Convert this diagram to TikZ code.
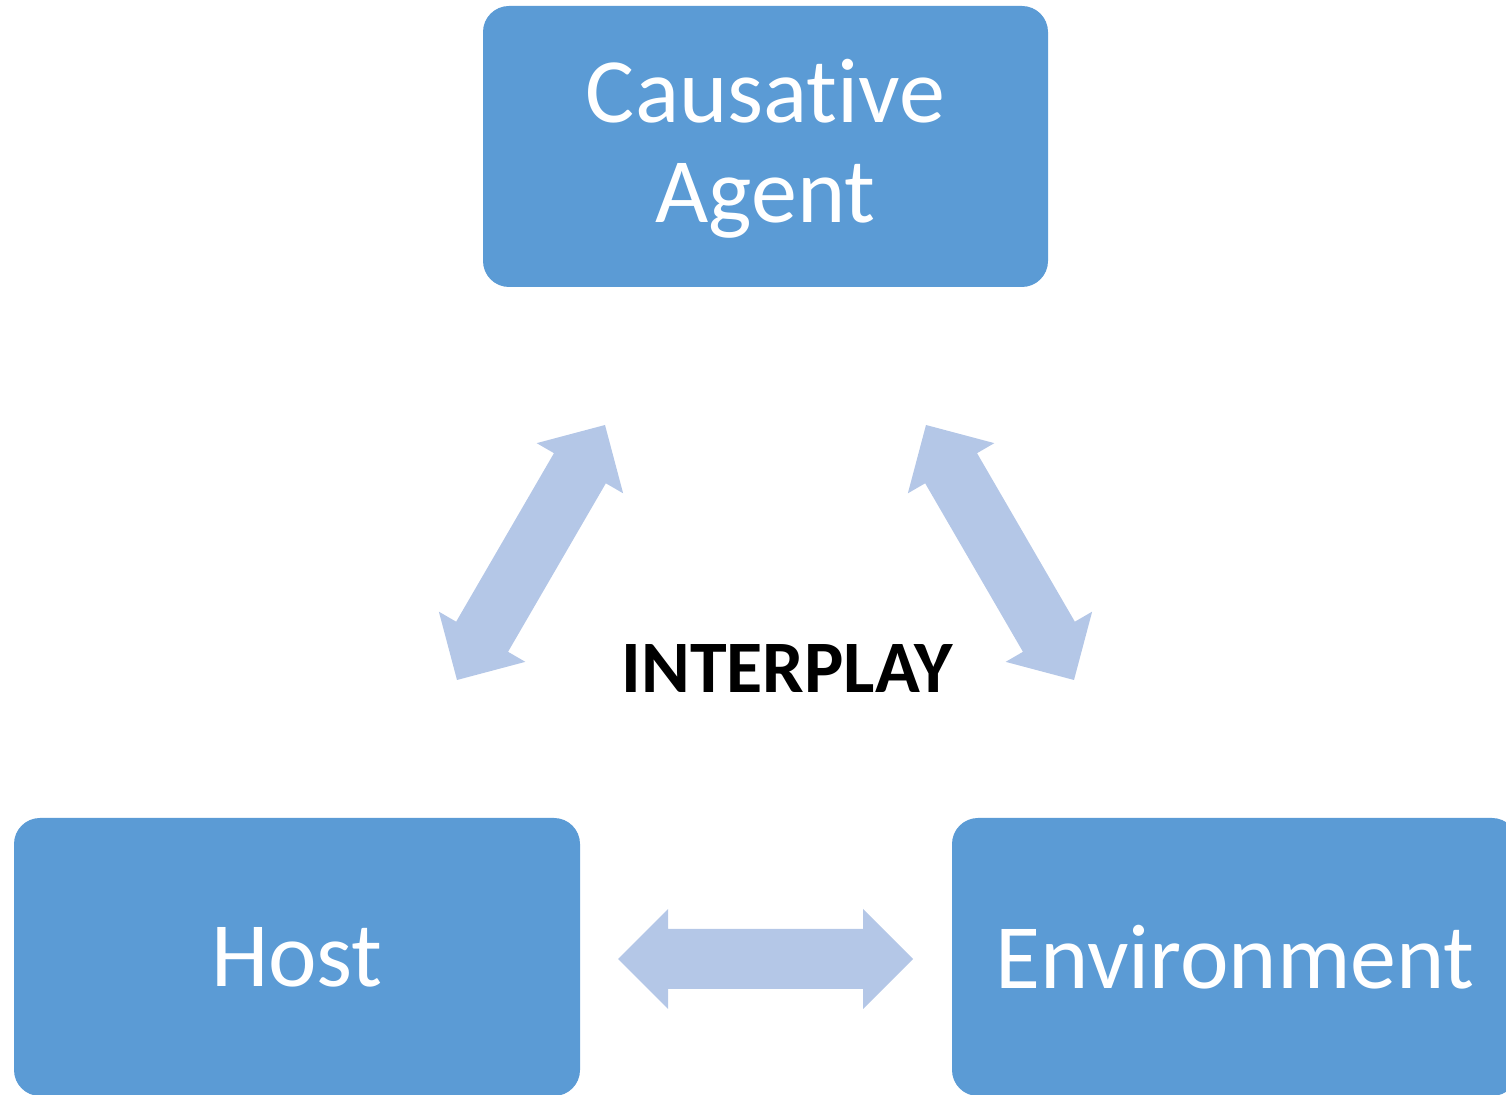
\documentclass[tikz,border=0pt]{standalone}
\usepackage{fontspec}
\setmainfont[Ligatures=NoCommon]{Carlito}
\usetikzlibrary{calc}

\definecolor{boxblue}{HTML}{5B9BD5}
\definecolor{flowblue}{HTML}{B4C7E7}

\tikzset{
  factor/.style={fill=boxblue, rounded corners=13pt, inner sep=0pt, outer sep=0pt,
    text=white, align=center, font=\fontsize{46}{50}\selectfont},
  flow/.style={fill=flowblue},
}

% Two-headed block arrow between two named tips:
% head length 25pt, head half-width 25pt, shaft half-width 15pt
\newcommand\twoway[2]{%
  \fill[flow] (#1)
    -- ($(#1)!25pt!(#2)!25pt!90:(#2)$)
    -- ($(#1)!25pt!(#2)!15pt!90:(#2)$)
    -- ($(#2)!25pt!(#1)!15pt!-90:(#1)$)
    -- ($(#2)!25pt!(#1)!25pt!-90:(#1)$)
    -- (#2)
    -- ($(#2)!25pt!(#1)!25pt!90:(#1)$)
    -- ($(#2)!25pt!(#1)!15pt!90:(#1)$)
    -- ($(#1)!25pt!(#2)!15pt!-90:(#2)$)
    -- ($(#1)!25pt!(#2)!25pt!-90:(#2)$)
    -- cycle;}

\begin{document}
\begin{tikzpicture}[x=1pt, y=1pt]
  \useasboundingbox (0,0) rectangle (753,-547.5);

  % the three factors
  \node[factor, minimum width=282.5pt, minimum height=140.5pt] (agent)
    at (382.75,-73.25) {};
  \node[factor, fill=none] (agentlabel) at ([yshift=-1pt]agent.center) {Causative\\Agent};
  \node[factor, minimum width=283pt, minimum height=139pt] (host)
    at (148.5,-478.5) {Host};
  \node[factor, minimum width=283pt, minimum height=139pt] (env)
    at (617.5,-478.5) {Environment};

  \node[font=\fontsize{37}{40}\selectfont\bfseries] (interplay)
    at (393.5,-334.5) {INTERPLAY};

  % arrow tips
  \coordinate (la) at (302.5,-212.5);
  \coordinate (lb) at (228.5,-340);
  \coordinate (ra) at (463,-212.5);
  \coordinate (rb) at (537,-340);
  \coordinate (ha) at (309,-479.5);
  \coordinate (hb) at (456.5,-479.5);

  \twoway{la}{lb}
  \twoway{ra}{rb}
  \twoway{ha}{hb}
\end{tikzpicture}
\end{document}
